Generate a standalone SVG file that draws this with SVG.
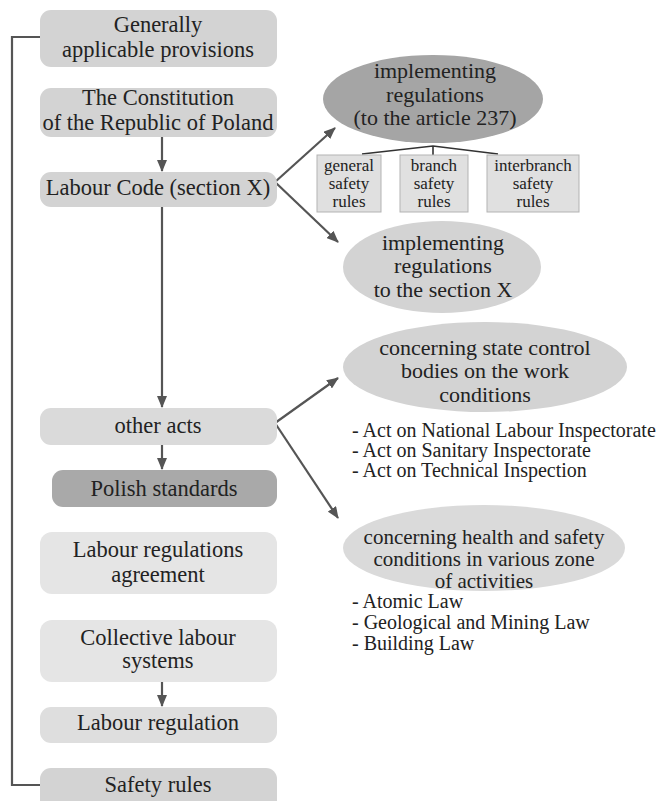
<svg xmlns="http://www.w3.org/2000/svg" width="664" height="801" viewBox="0 0 664 801">
<style>
text{font-family:"Liberation Serif","Times New Roman",serif;fill:#222;text-anchor:middle}
.l{font-size:22.5px}
.e{font-size:22px}
.e2{font-size:21px}
.s{font-size:17px}
.li{font-size:20px;text-anchor:start}
.c{stroke:#555;stroke-width:2.2;fill:none}
.t{stroke:#333;stroke-width:1.6;fill:none}
.sb{fill:#e0e0e0;stroke:#b3b3b3;stroke-width:1}
</style>
<defs>
<marker id="ah" markerWidth="12" markerHeight="10" refX="11" refY="5" orient="auto" markerUnits="userSpaceOnUse">
<path d="M0,0 L12,5 L0,10 z" fill="#555"/>
</marker>
</defs>
<rect width="664" height="801" fill="#fff"/>
<g id="connectors">
<path class="c" d="M40,37 H12 V785 H40"/>
<line class="c" x1="162" y1="137" x2="162" y2="171" marker-end="url(#ah)"/>
<line class="c" x1="162" y1="207" x2="162" y2="407" marker-end="url(#ah)"/>
<line class="c" x1="162" y1="445" x2="162" y2="469" marker-end="url(#ah)"/>
<line class="c" x1="162" y1="682" x2="162" y2="706" marker-end="url(#ah)"/>
<line class="c" x1="275" y1="182" x2="335" y2="128" marker-end="url(#ah)"/>
<line class="c" x1="275" y1="182" x2="338" y2="242" marker-end="url(#ah)"/>
<line class="c" x1="275" y1="423" x2="338" y2="378" marker-end="url(#ah)"/>
<line class="c" x1="275" y1="423" x2="338" y2="518" marker-end="url(#ah)"/>
<polyline class="t" points="362,154 433,146 498,154"/>
<line class="t" x1="433" y1="146" x2="433" y2="155"/>
</g>
<g id="n-general"><rect x="40" y="10" width="237" height="57" rx="11" fill="#d3d3d3"/><text class="l" x="158" y="32">Generally</text><text class="l" x="158" y="57">applicable provisions</text></g>
<g id="n-constitution"><rect x="40" y="88" width="237" height="49" rx="11" fill="#d3d3d3"/><text class="l" x="158" y="105">The Constitution</text><text class="l" x="158" y="130">of the Republic of Poland</text></g>
<g id="n-labourcode"><rect x="40" y="172" width="237" height="35" rx="11" fill="#d3d3d3"/><text class="l" x="158" y="195">Labour Code (section X)</text></g>
<g id="n-otheracts"><rect x="40" y="408" width="237" height="37" rx="11" fill="#dadada"/><text class="l" x="158" y="433">other acts</text></g>
<g id="n-polish"><rect x="52" y="470" width="225" height="37" rx="11" fill="#a9a9a9"/><text class="l" x="164" y="496">Polish standards</text></g>
<g id="n-lra"><rect x="40" y="532" width="237" height="62" rx="12" fill="#e5e5e5"/><text class="l" x="158" y="557">Labour regulations</text><text class="l" x="158" y="582">agreement</text></g>
<g id="n-cls"><rect x="40" y="620" width="237" height="62" rx="12" fill="#e5e5e5"/><text class="l" x="158" y="645">Collective labour</text><text class="l" x="158" y="668">systems</text></g>
<g id="n-lr"><rect x="40" y="707" width="237" height="36" rx="11" fill="#dedede"/><text class="l" x="158" y="730">Labour regulation</text></g>
<g id="n-safety"><rect x="40" y="768" width="237" height="45" rx="11" fill="#d3d3d3"/><text class="l" x="158" y="792">Safety rules</text></g>
<g id="n-impl237"><ellipse cx="433" cy="99" rx="110" ry="44" fill="#a5a5a5"/><text class="e" x="435" y="78">implementing</text><text class="e" x="435" y="102">regulations</text><text class="e" x="435" y="125">(to the article 237)</text></g>
<g id="n-gsr"><rect class="sb" x="317" y="155" width="64" height="57"/><text class="s" x="349" y="171">general</text><text class="s" x="349" y="189">safety</text><text class="s" x="349" y="207">rules</text></g>
<g id="n-bsr"><rect class="sb" x="400" y="155" width="68" height="57"/><text class="s" x="434" y="171">branch</text><text class="s" x="434" y="189">safety</text><text class="s" x="434" y="207">rules</text></g>
<g id="n-isr"><rect class="sb" x="487" y="155" width="92" height="57"/><text class="s" x="533" y="171">interbranch</text><text class="s" x="533" y="189">safety</text><text class="s" x="533" y="207">rules</text></g>
<g id="n-implX"><ellipse cx="442" cy="267" rx="99" ry="46" fill="#d3d3d3"/><text class="e" x="443" y="250">implementing</text><text class="e" x="443" y="273">regulations</text><text class="e" x="443" y="297">to the section X</text></g>
<g id="n-state"><ellipse cx="485" cy="367" rx="142" ry="45" fill="#d3d3d3"/><text class="e" x="485" y="355">concerning state control</text><text class="e" x="485" y="378">bodies on the work</text><text class="e" x="485" y="402">conditions</text>
<text class="li" x="352" y="437">- Act on National Labour Inspectorate</text><text class="li" x="352" y="457">- Act on Sanitary Inspectorate</text><text class="li" x="352" y="477">- Act on Technical Inspection</text></g>
<g id="n-health"><ellipse cx="484" cy="548" rx="141" ry="43" fill="#dadada"/><text class="e2" x="484" y="544">concerning health and safety</text><text class="e2" x="484" y="566">conditions in various zone</text><text class="e2" x="484" y="588">of activities</text>
<text class="li" x="352" y="608">- Atomic Law</text><text class="li" x="352" y="629">- Geological and Mining Law</text><text class="li" x="352" y="650">- Building Law</text></g>
</svg>
